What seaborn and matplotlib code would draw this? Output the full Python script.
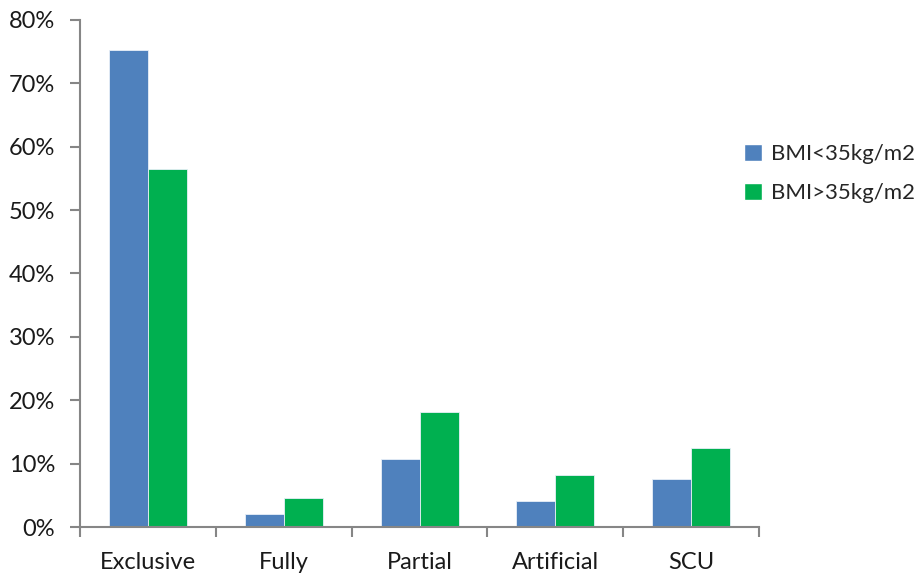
import numpy as np
import pandas as pd
import matplotlib
matplotlib.use("Agg")
import matplotlib.pyplot as plt
from matplotlib.patches import Patch
from matplotlib.ticker import FixedLocator, FuncFormatter
import seaborn as sns

# data
categories = ["Exclusive", "Fully", "Partial", "Artificial", "SCU"]
series = ["BMI<35kg/m2", "BMI>35kg/m2"]
bmi_low = [75.3, 2.1, 10.7, 4.1, 7.5]
bmi_high = [56.5, 4.6, 18.1, 8.2, 12.4]
yticks = [0, 10, 20, 30, 40, 50, 60, 70, 80]

BLUE, GREEN, GREY = "#4F81BD", "#00B050", "#868686"

df = pd.DataFrame({
    "category": categories * 2,
    "group": [series[0]] * len(categories) + [series[1]] * len(categories),
    "value": bmi_low + bmi_high,
})

sns.set_style("white")
plt.rcParams["font.family"] = ["Lato", "DejaVu Sans"]

fig = plt.figure(figsize=(9.19, 5.79), dpi=100)
ax = fig.add_axes([0.087, 0.0898, 0.739, 0.8757])

sns.barplot(data=df, x="category", y="value", hue="group", order=categories,
            hue_order=series, palette=[BLUE, GREEN], width=0.574, gap=0,
            edgecolor="#e8f0f8", linewidth=0.6, saturation=1, legend=False, ax=ax)

ax.set_xlim(-0.5, len(categories) - 0.5)
ax.set_ylim(0, 80)
ax.yaxis.set_major_locator(FixedLocator(yticks))
ax.yaxis.set_major_formatter(FuncFormatter(lambda v, p: f"{v:.0f}%"))
ax.set_xlabel("")
ax.set_ylabel("")

for s in ["top", "right"]:
    ax.spines[s].set_visible(False)
for s in ["left", "bottom"]:
    ax.spines[s].set_color(GREY)
    ax.spines[s].set_linewidth(1.5)

ax.tick_params(axis="y", direction="out", length=7, width=1.5, color=GREY,
               labelsize=17, pad=11, left=True)
ax.tick_params(axis="x", which="major", length=0, labelsize=17, pad=18)
ax.set_xticks(np.arange(-0.5, len(categories)), minor=True)
ax.tick_params(axis="x", which="minor", direction="out", length=7, width=1.5,
               color=GREY, bottom=True)
for t in ax.get_xticklabels() + ax.get_yticklabels():
    t.set_color("#1a1a1a")

handles = [Patch(facecolor=BLUE), Patch(facecolor=GREEN)]
fig.legend(handles, series, loc="center left", bbox_to_anchor=(0.788, 0.700),
           frameon=False, fontsize=16, handlelength=0.8, handleheight=0.8,
           handletextpad=0.4, labelspacing=0.85)

fig.savefig("out.png", dpi=100)
